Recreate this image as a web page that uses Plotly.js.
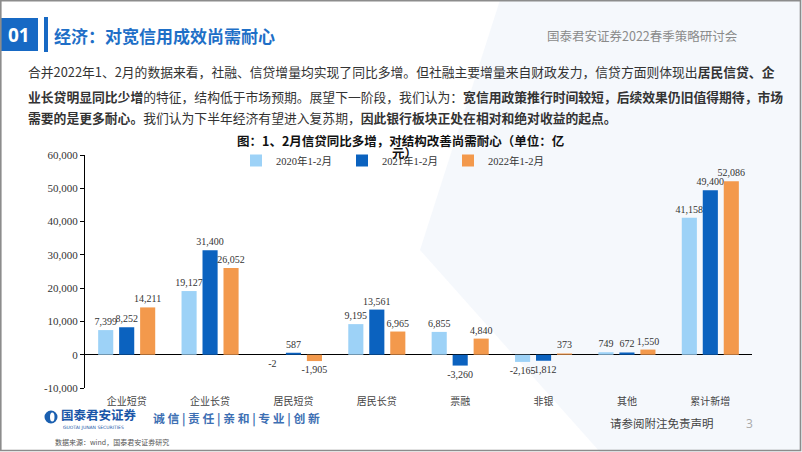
<!DOCTYPE html>
<html>
<head>
<meta charset="utf-8">
<script src="https://cdn.plot.ly/plotly-3.0.1.min.js"></script>
<style>
html,body{margin:0;padding:0;background:#ffffff;}
#chart{width:802px;height:452px;}
</style>
</head>
<body>
<div id="chart"></div>
<script>
// ---- data ----
const categories = ['企业短贷','企业长贷','居民短贷','居民长贷','票融','非银','其他','累计新增'];
const seriesNames = ['2020年1-2月','2021年1-2月','2022年1-2月'];
const values2020 = [7399, 19127, -2, 9195, 6855, -2165, 749, 41158];
const values2021 = [8252, 31400, 587, 13561, -3260, -1812, 672, 49400];
const values2022 = [14211, 26052, -1905, 6965, 4840, 373, 1550, 52086];
const yTickValues = [-10000, 0, 10000, 20000, 30000, 40000, 50000, 60000];

// ---- geometry helpers (pixel -> paper) ----
const W = 802, H = 452, L = 85, R = 752, T = 155, B = 388;
const X = px => (px - L) / (R - L);
const Y = py => (B - py) / (B - T);
const fmt = v => v.toLocaleString('en-US');

const colors = ['#9dd2f7', '#0b62bf', '#f3994c'];
const serif = 'Liberation Serif, Times New Roman, Noto Sans CJK SC, serif';
const cjk = 'Noto Sans CJK SC, sans-serif';

const allSeries = [values2020, values2021, values2022];
const traces = allSeries.map((vals, i) => ({
  type: 'bar',
  name: seriesNames[i],
  x: categories,
  y: vals,
  marker: {color: colors[i]},
  text: vals.map(fmt),
  textposition: 'outside',
  constraintext: 'none',
  cliponaxis: false,
  textfont: {family: serif, size: 10, color: '#333'},
  hoverinfo: 'none'
}));

function ann(px, py, text, size, color, opts) {
  return Object.assign({
    xref: 'paper', yref: 'paper', x: X(px), y: Y(py),
    xanchor: 'left', yanchor: 'middle', showarrow: false,
    text: text, font: {family: cjk, size: size, color: color}
  }, opts || {});
}

const sp = '&nbsp;';
const slogan = ['诚' + sp + '信', '责' + sp + '任', '亲' + sp + '和', '专' + sp + '业', '创' + sp + '新'].join(sp + '|' + sp);

const annotations = [
  ann(19, 35, '<b>01</b>', 19, '#ffffff', {xanchor: 'center', font: {family: 'Open Sans, DejaVu Sans, sans-serif', size: 19, color: '#ffffff'}}),
  ann(52, 35, '<b>经济：对宽信用成效尚需耐心</b>', 17, '#1e6fc7'),
  ann(545, 36, '国泰君安证券2022春季策略研讨会', 12.5, '#8a8a8a'),
  ann(26, 72, '合并2022年1、2月的数据来看，社融、信贷增量均实现了同比多增。但社融主要增量来自财政发力，信贷方面则体现出<b>居民信贷、企</b>', 12.8, '#333'),
  ann(26, 96, '<b>业长贷明显同比少增</b>的特征，结构低于市场预期。展望下一阶段，我们认为：<b>宽信用政策推行时间较短，后续效果仍旧值得期待，市场</b>', 12.8, '#333'),
  ann(26, 118, '<b>需要的是更多耐心。</b>我们认为下半年经济有望进入复苏期，<b>因此银行板块正处在相对和绝对收益的起点。</b>', 12.8, '#333'),
  ann(400, 140, '<b>图：1、2月信贷同比多增，对结构改善尚需耐心（单位：亿</b>', 12.5, '#111', {xanchor: 'center'}),
  ann(404, 152, '<b>元）</b>', 12.5, '#111', {xanchor: 'center'}),
  ann(59, 414.5, '<b>国泰君安证券</b>', 12.5, '#1a56a8'),
  ann(61, 427, 'GUOTAI JUNAN SECURITIES', 4.5, '#1a56a8', {font: {family: 'DejaVu Sans', size: 4.5, color: '#1a56a8'}}),
  ann(151, 418, '<b>' + slogan + '</b>', 11.8, '#3d6fb3'),
  ann(53, 442, '数据来源：wind，国泰君安证券研究', 7, '#555'),
  ann(608, 423, '请参阅附注免责声明', 11.5, '#444'),
  ann(749, 423, '3', 12, '#aaa', {xanchor: 'center', font: {family: 'Open Sans, sans-serif', size: 12, color: '#aaa'}})
];

const shapes = [
  {type: 'path', xref: 'paper', yref: 'paper', layer: 'below', line: {width: 0}, fillcolor: 'rgba(225,235,247,0.35)',
   path: `M ${X(500)},${Y(0)} L ${X(802)},${Y(0)} L ${X(802)},${Y(452)} L ${X(600)},${Y(452)} L ${X(420)},${Y(250)} Z`},
  {type: 'rect', xref: 'paper', yref: 'paper', x0: X(0), x1: X(38), y0: Y(51), y1: Y(18), fillcolor: '#1769c4', line: {width: 0}},
  {type: 'rect', xref: 'paper', yref: 'paper', x0: X(44), x1: X(48), y0: Y(52), y1: Y(17), fillcolor: '#1769c4', line: {width: 0}},
  {type: 'circle', xref: 'paper', yref: 'paper', x0: X(44.5), x1: X(57.5), y0: Y(423.5), y1: Y(410.5), fillcolor: '#1a5fb0', line: {width: 0}},
  {type: 'circle', xref: 'paper', yref: 'paper', x0: X(50), x1: X(54.5), y0: Y(421.5), y1: Y(412.5), fillcolor: '#ffffff', line: {width: 0}},
  {type: 'rect', xref: 'paper', yref: 'paper', x0: X(0.8), x1: X(800.5), y0: Y(450.5), y1: Y(0.8), line: {color: '#8c8c8c', width: 1.6}, fillcolor: 'rgba(0,0,0,0)'}
];

const layout = {
  width: W, height: H,
  margin: {l: L, r: W - R, t: T, b: H - B, pad: 0},
  paper_bgcolor: 'rgba(0,0,0,0)',
  plot_bgcolor: 'rgba(0,0,0,0)',
  barmode: 'group',
  bargap: 0.245,
  bargroupgap: 0.28,
  showlegend: true,
  legend: {
    orientation: 'h', x: X(236), y: Y(146), xanchor: 'left', yanchor: 'top',
    font: {family: serif, size: 10.5, color: '#333'},
    bgcolor: 'rgba(0,0,0,0)', entrywidth: 61, entrywidthmode: 'pixels',
    traceorder: 'normal'
  },
  xaxis: {
    type: 'category', showline: false, ticks: '', zeroline: false, showgrid: false,
    ticklabelstandoff: 6,
    tickfont: {family: cjk, size: 10, color: '#444'}, fixedrange: true
  },
  yaxis: {
    range: [-10000, 60000], tickvals: yTickValues, ticktext: yTickValues.map(fmt),
    showline: true, linecolor: '#000', linewidth: 1,
    ticks: 'outside', ticklen: 4, tickcolor: '#000',
    showgrid: false, zeroline: true, zerolinecolor: '#000', zerolinewidth: 1,
    tickfont: {family: serif, size: 11, color: '#333'}, fixedrange: true
  },
  annotations: annotations,
  shapes: shapes
};

Plotly.newPlot('chart', traces, layout, {displayModeBar: false, staticPlot: true});
</script>
</body>
</html>
